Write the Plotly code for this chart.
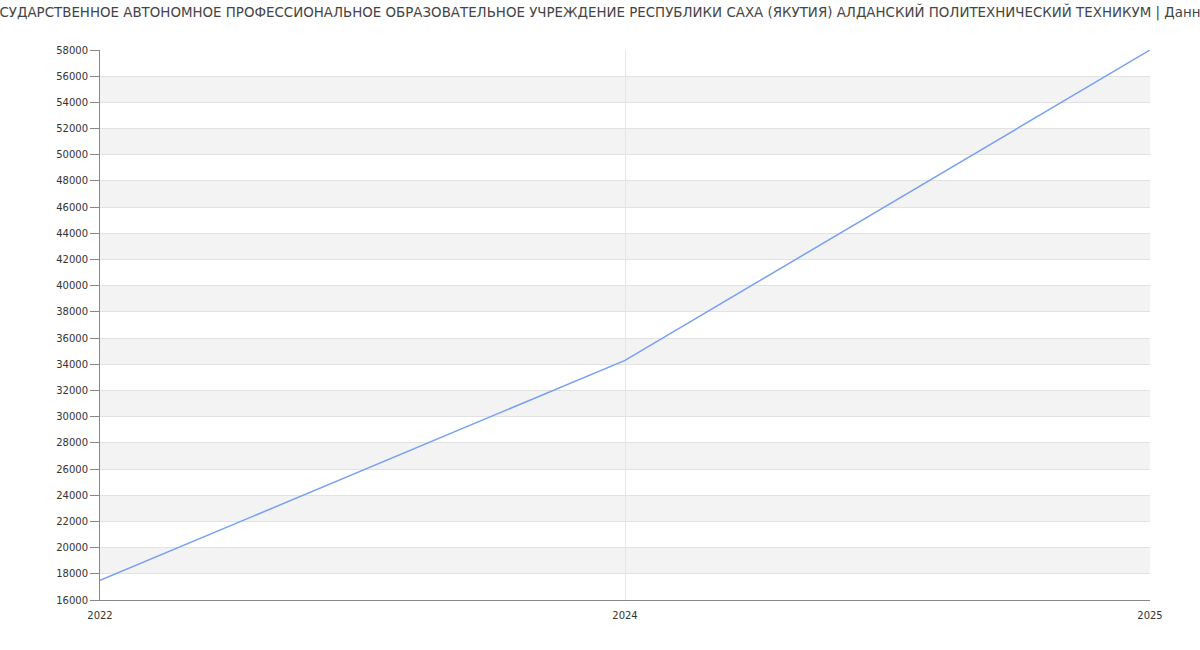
import plotly.graph_objects as go

years = ["2022", "2024", "2025"]
values = [17500, 34300, 58000]
title_text = ("ГОСУДАРСТВЕННОЕ АВТОНОМНОЕ ПРОФЕССИОНАЛЬНОЕ ОБРАЗОВАТЕЛЬНОЕ УЧРЕЖДЕНИЕ "
              "РЕСПУБЛИКИ САХА (ЯКУТИЯ) АЛДАНСКИЙ ПОЛИТЕХНИЧЕСКИЙ ТЕХНИКУМ | Данные")
y_min, y_max, y_step = 16000, 58000, 2000

fig = go.Figure()
fig.add_trace(go.Scatter(x=years, y=values, mode="lines",
                         line=dict(color="#76a0f4", width=1.5), hoverinfo="x+y"))

shapes = []
for lo in range(y_min + y_step, y_max, 2 * y_step):
    shapes.append(dict(type="rect", xref="paper", yref="y", x0=0, x1=1, y0=lo, y1=lo + y_step,
                       fillcolor="#f3f3f3", line=dict(width=0), layer="below"))

fig.update_layout(
    width=1200, height=650,
    margin=dict(l=100, r=50, t=50, b=50),
    paper_bgcolor="white", plot_bgcolor="white",
    font=dict(family="DejaVu Sans", size=10, color="#333"),
    title=dict(text=title_text, x=0.5, xanchor="center", y=0.988, yanchor="top",
               font=dict(family="DejaVu Sans", size=13.4, color="#444")),
    showlegend=False,
    shapes=shapes,
    xaxis=dict(type="category", range=[0, 2], showgrid=True, gridcolor="#e6e6e6",
               showline=True, linecolor="#888", linewidth=1, ticks="outside", ticklen=6,
               tickcolor="rgba(0,0,0,0)", zeroline=False,
               tickfont=dict(size=10, color="#333")),
    yaxis=dict(range=[y_min, y_max], dtick=y_step, tickformat="d", showgrid=True,
               gridcolor="#e2e2e2", showline=True, linecolor="#888", linewidth=1,
               ticks="outside", ticklen=9, tickcolor="#888", zeroline=False,
               tickfont=dict(size=10, color="#333")),
)
fig.write_html("out.html")
